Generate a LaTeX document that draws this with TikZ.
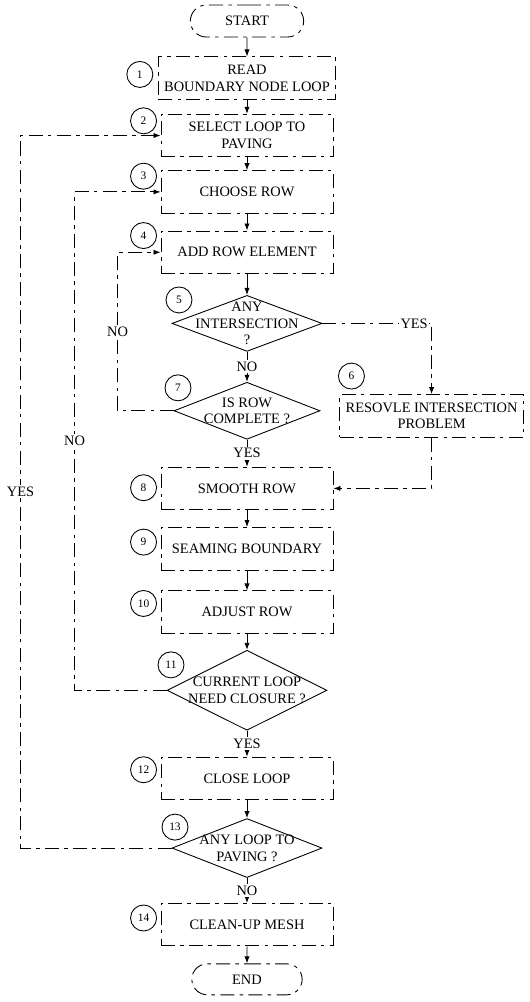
\documentclass[tikz,border=0pt]{standalone}
\usepackage{fontspec}
\setmainfont{Liberation Serif}
\usepackage{tikz}
\usetikzlibrary{shapes,arrows,positioning,calc,shapes.geometric,arrows.meta}

\tikzset{
    scanline/.style={dash pattern=on 8pt off 3pt on 2pt off 3pt},
    stepbox/.style={draw, rectangle, scanline, minimum width=3.44cm, minimum height=0.85cm, align=center},
    termbox/.style={draw, rounded rectangle, scanline, minimum width=2.50cm, minimum height=0.64cm},
    decide/.style={draw, diamond, inner sep=0pt},
    numc/.style={draw, circle, fill=white, minimum size=0.52cm, inner sep=0pt, font=\fontsize{6.5}{7}\selectfont},
    flow/.style={scanline, -{Latex[length=4pt,width=3pt]}},
    lbl/.style={fill=white, inner sep=1pt},
}

\begin{document}
\begin{tikzpicture}[font=\fontsize{8.2}{9.6}\selectfont, line width=0.5pt]
    \useasboundingbox (-4.94,0.42) rectangle (5.66,-19.62);
    % main column
    \node[termbox] (start) at (0,0) {START};
    \node[stepbox, below=0.38cm of start] (b1) {READ\\BOUNDARY NODE LOOP};
    \node[stepbox, below=0.28cm of b1] (b2) {SELECT LOOP TO\\PAVING};
    \node[stepbox, below=0.26cm of b2] (b3) {CHOOSE ROW};
    \node[stepbox, below=0.34cm of b3] (b4) {ADD ROW ELEMENT};
    \node[decide, minimum width=3.00cm, minimum height=1.12cm, below=0.42cm of b4] (d5) {};
    \node[align=center] (t5) at (d5) {ANY\\INTERSECTION\\?};
    \node[decide, minimum width=2.92cm, minimum height=1.14cm, below=0.60cm of d5] (d7) {};
    \node[align=center] (t7) at (d7) {IS ROW\\COMPLETE ?};
    \node[stepbox, minimum width=3.62cm, minimum height=0.85cm, right=0.38cm of d7, yshift=-0.1cm] (b6) {RESOVLE INTERSECTION\\PROBLEM};
    \node[stepbox, below=0.54cm of d7] (b8) {SMOOTH ROW};
    \node[stepbox, below=0.34cm of b8] (b9) {SEAMING BOUNDARY};
    \node[stepbox, below=0.40cm of b9] (b10) {ADJUST ROW};
    \node[decide, minimum width=3.20cm, minimum height=1.60cm, below=0.32cm of b10] (d11) {};
    \node[align=center] (t11) at (d11) {CURRENT LOOP\\NEED CLOSURE ?};
    \node[stepbox, below=0.52cm of d11] (b12) {CLOSE LOOP};
    \node[decide, minimum width=3.00cm, minimum height=1.18cm, below=0.36cm of b12] (d13) {};
    \node[align=center] (t13) at (d13) {ANY LOOP TO\\PAVING ?};
    \node[stepbox, below=0.50cm of d13] (b14) {CLEAN-UP MESH};
    \node[termbox, minimum width=2.44cm, minimum height=0.62cm, below=0.34cm of b14] (end) {END};

    % step numbers
    \node[numc] (n1) at ($(b1.north west)+(-0.36,-0.36)$) {1};
    \node[numc] (n2) at ($(b2.north west)+(-0.34,-0.14)$) {2};
    \node[numc] (n3) at ($(b3.north west)+(-0.34,-0.12)$) {3};
    \node[numc] (n4) at ($(b4.north west)+(-0.34,-0.10)$) {4};
    \node[numc] (n5) at ($(d5.north)+(-1.36,-0.10)$) {5};
    \node[numc] (n6) at ($(b6.north west)+(0.24,0.36)$) {6};
    \node[numc] (n7) at ($(d7.north)+(-1.38,-0.12)$) {7};
    \node[numc] (n8) at ($(b8.north west)+(-0.34,-0.42)$) {8};
    \node[numc] (n9) at ($(b9.north west)+(-0.34,-0.30)$) {9};
    \node[numc] (n10) at ($(b10.north west)+(-0.34,-0.26)$) {10};
    \node[numc] (n11) at ($(d11.north)+(-1.52,-0.30)$) {11};
    \node[numc] (n12) at ($(b12.north west)+(-0.34,-0.26)$) {12};
    \node[numc] (n13) at ($(d13.north)+(-1.44,-0.18)$) {13};
    \node[numc] (n14) at ($(b14.north west)+(-0.34,-0.30)$) {14};

    % straight flow
    \draw[flow] (start) -- (b1);
    \draw[flow] (b1) -- (b2);
    \draw[flow] (b2) -- (b3);
    \draw[flow] (b3) -- (b4);
    \draw[flow] (b4) -- (d5);
    \draw[flow] (d5) -- node[lbl]{NO} (d7);
    \draw[flow] (d7) -- node[lbl]{YES} (b8);
    \draw[flow] (b8) -- (b9);
    \draw[flow] (b9) -- (b10);
    \draw[flow] (b10) -- (d11);
    \draw[flow] (d11) -- node[lbl]{YES} (b12);
    \draw[flow] (b12) -- (d13);
    \draw[flow] (d13) -- node[lbl]{NO} (b14);
    \draw[flow] (b14) -- (end);

    % side branch
    \draw[flow] (d5.east) -| node[lbl, pos=0.42]{YES} (b6.north);
    \draw[flow] (b6.south) |- (b8.east);

    % loops back
    \draw[flow] (d7.west) -| node[lbl, pos=0.75]{NO} ([xshift=-0.86cm]b4.west) -- (b4.west);
    \draw[flow] (d11.west) -| node[lbl, pos=0.75]{NO} ([xshift=-1.72cm]b3.west) -- (b3.west);
    \draw[flow] (d13.west) -| node[lbl, pos=0.75]{YES} ([xshift=-2.80cm]b2.west) -- (b2.west);
\end{tikzpicture}
\end{document}
